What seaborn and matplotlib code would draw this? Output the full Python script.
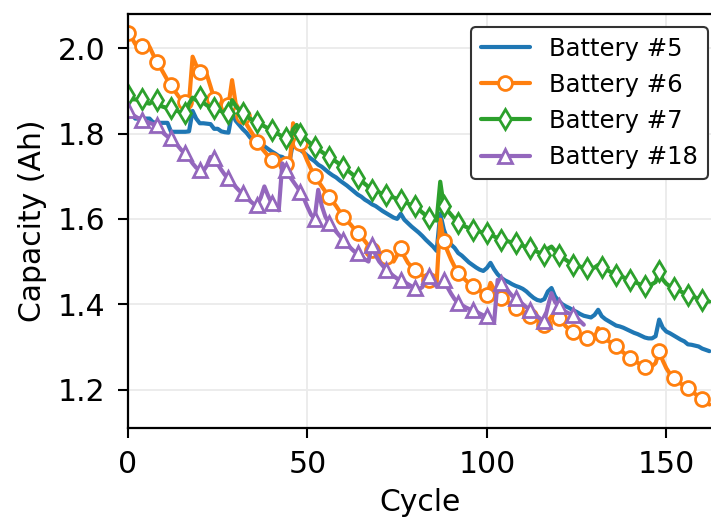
import numpy as np
import pandas as pd
import matplotlib
matplotlib.use("Agg")
import matplotlib.pyplot as plt
import seaborn as sns

# ---- data ----
b5 = [1.856, 1.846, 1.835, 1.835, 1.835, 1.835, 1.835, 1.826, 1.826, 1.825,
      1.825, 1.825, 1.804, 1.804, 1.804, 1.804, 1.804, 1.805, 1.853, 1.835,
      1.824, 1.824, 1.823, 1.822, 1.811, 1.811, 1.805, 1.803, 1.802, 1.848,
      1.830, 1.820, 1.810, 1.802, 1.791, 1.783, 1.782, 1.776, 1.770, 1.764,
      1.758, 1.753, 1.747, 1.745, 1.739, 1.734, 1.780, 1.770, 1.762, 1.755,
      1.748, 1.741, 1.735, 1.727, 1.722, 1.715, 1.708, 1.702, 1.697, 1.690,
      1.684, 1.678, 1.671, 1.664, 1.657, 1.652, 1.645, 1.640, 1.634, 1.630,
      1.624, 1.618, 1.613, 1.608, 1.603, 1.600, 1.612, 1.598, 1.590, 1.582,
      1.575, 1.568, 1.560, 1.551, 1.543, 1.535, 1.525, 1.612, 1.575, 1.552,
      1.540, 1.532, 1.520, 1.514, 1.506, 1.498, 1.492, 1.486, 1.481, 1.478,
      1.485, 1.497, 1.482, 1.470, 1.462, 1.456, 1.452, 1.447, 1.443, 1.440,
      1.436, 1.430, 1.422, 1.415, 1.410, 1.408, 1.412, 1.430, 1.438, 1.418,
      1.408, 1.400, 1.395, 1.391, 1.386, 1.382, 1.377, 1.373, 1.371, 1.369,
      1.375, 1.387, 1.372, 1.365, 1.360, 1.355, 1.350, 1.348, 1.345, 1.341,
      1.337, 1.333, 1.330, 1.326, 1.322, 1.320, 1.320, 1.325, 1.364, 1.345,
      1.336, 1.332, 1.327, 1.322, 1.317, 1.313, 1.306, 1.305, 1.303, 1.301,
      1.296, 1.293, 1.290]

b6 = [2.035, 2.025, 2.010, 2.008, 2.005, 2.005, 2.003, 1.985, 1.968, 1.955,
      1.940, 1.925, 1.913, 1.900, 1.888, 1.877, 1.874, 1.873, 1.980, 1.960,
      1.945, 1.940, 1.937, 1.910, 1.882, 1.875, 1.870, 1.867, 1.866, 1.925,
      1.870, 1.855, 1.840, 1.822, 1.808, 1.795, 1.780, 1.768, 1.758, 1.748,
      1.738, 1.735, 1.733, 1.731, 1.728, 1.722, 1.824, 1.800, 1.777, 1.755,
      1.735, 1.717, 1.700, 1.688, 1.676, 1.664, 1.652, 1.641, 1.630, 1.617,
      1.605, 1.596, 1.587, 1.577, 1.568, 1.558, 1.548, 1.537, 1.527, 1.522,
      1.518, 1.513, 1.510, 1.505, 1.500, 1.515, 1.531, 1.512, 1.497, 1.488,
      1.480, 1.474, 1.468, 1.462, 1.457, 1.453, 1.450, 1.598, 1.547, 1.525,
      1.505, 1.488, 1.473, 1.465, 1.457, 1.449, 1.442, 1.437, 1.432, 1.427,
      1.422, 1.450, 1.435, 1.425, 1.415, 1.410, 1.404, 1.397, 1.391, 1.386,
      1.381, 1.377, 1.372, 1.367, 1.362, 1.357, 1.352, 1.360, 1.372, 1.370,
      1.368, 1.358, 1.348, 1.341, 1.336, 1.332, 1.328, 1.325, 1.321, 1.318,
      1.320, 1.344, 1.329, 1.320, 1.313, 1.307, 1.301, 1.294, 1.287, 1.280,
      1.274, 1.268, 1.263, 1.258, 1.254, 1.252, 1.255, 1.262, 1.290, 1.268,
      1.250, 1.237, 1.227, 1.220, 1.214, 1.209, 1.204, 1.197, 1.190, 1.184,
      1.177, 1.171, 1.165]

b7 = [1.891, 1.880, 1.880, 1.878, 1.882, 1.872, 1.870, 1.876, 1.878, 1.865,
      1.862, 1.860, 1.859, 1.855, 1.852, 1.848, 1.847, 1.870, 1.884, 1.878,
      1.886, 1.872, 1.866, 1.860, 1.859, 1.856, 1.852, 1.849, 1.847, 1.878,
      1.865, 1.855, 1.847, 1.840, 1.835, 1.830, 1.828, 1.822, 1.817, 1.812,
      1.808, 1.803, 1.798, 1.793, 1.789, 1.785, 1.810, 1.820, 1.800, 1.792,
      1.783, 1.776, 1.769, 1.763, 1.757, 1.751, 1.746, 1.740, 1.734, 1.728,
      1.722, 1.715, 1.708, 1.701, 1.695, 1.689, 1.682, 1.675, 1.668, 1.665,
      1.662, 1.659, 1.656, 1.653, 1.650, 1.647, 1.644, 1.640, 1.636, 1.632,
      1.629, 1.622, 1.615, 1.608, 1.601, 1.598, 1.596, 1.687, 1.629, 1.620,
      1.610, 1.600, 1.590, 1.586, 1.582, 1.578, 1.574, 1.572, 1.570, 1.568,
      1.567, 1.563, 1.559, 1.555, 1.551, 1.549, 1.547, 1.545, 1.543, 1.540,
      1.537, 1.534, 1.531, 1.527, 1.523, 1.519, 1.516, 1.530, 1.535, 1.525,
      1.516, 1.510, 1.504, 1.498, 1.492, 1.490, 1.488, 1.486, 1.485, 1.484,
      1.486, 1.492, 1.488, 1.483, 1.478, 1.473, 1.469, 1.466, 1.463, 1.460,
      1.457, 1.453, 1.449, 1.445, 1.442, 1.443, 1.447, 1.452, 1.477, 1.458,
      1.448, 1.442, 1.438, 1.434, 1.430, 1.426, 1.422, 1.419, 1.416, 1.413,
      1.410, 1.408, 1.406]

b18 = [1.855, 1.845, 1.840, 1.835, 1.832, 1.828, 1.825, 1.822, 1.820, 1.810,
       1.800, 1.793, 1.789, 1.780, 1.770, 1.760, 1.754, 1.742, 1.730, 1.720,
       1.715, 1.712, 1.725, 1.745, 1.742, 1.728, 1.715, 1.703, 1.695, 1.685,
       1.675, 1.666, 1.660, 1.650, 1.642, 1.635, 1.633, 1.650, 1.676, 1.655,
       1.637, 1.628, 1.620, 1.730, 1.715, 1.700, 1.688, 1.676, 1.664, 1.648,
       1.628, 1.610, 1.600, 1.668, 1.630, 1.605, 1.590, 1.580, 1.570, 1.560,
       1.551, 1.542, 1.532, 1.524, 1.520, 1.512, 1.505, 1.500, 1.539, 1.515,
       1.500, 1.490, 1.480, 1.473, 1.466, 1.460, 1.457, 1.452, 1.447, 1.442,
       1.438, 1.435, 1.440, 1.458, 1.465, 1.450, 1.442, 1.448, 1.457, 1.440,
       1.425, 1.412, 1.403, 1.398, 1.393, 1.389, 1.387, 1.383, 1.378, 1.374,
       1.372, 1.362, 1.356, 1.457, 1.450, 1.440, 1.430, 1.420, 1.414, 1.407,
       1.400, 1.393, 1.387, 1.380, 1.372, 1.365, 1.360, 1.395, 1.426, 1.405,
       1.395, 1.388, 1.382, 1.378, 1.375, 1.368, 1.360, 1.352]

labels = ["Battery #5", "Battery #6", "Battery #7", "Battery #18"]
series = [b5, b6, b7, b18]
colors = ["#1f77b4", "#ff7f0e", "#2ca02c", "#9467bd"]
markers = [None, "o", "d", "^"]

xticks = [0, 50, 100, 150]
yticks = [1.2, 1.4, 1.6, 1.8, 2.0]

frames = []
for lab, vals in zip(labels, series):
    frames.append(pd.DataFrame({"Cycle": np.arange(len(vals)),
                                "Capacity": vals, "Battery": lab}))
df = pd.concat(frames, ignore_index=True)

sns.set_style("ticks")
plt.rcParams["font.family"] = ["DejaVu Sans"]
plt.rcParams["text.color"] = "black"
plt.rcParams["axes.labelcolor"] = "black"

fig = plt.figure(figsize=(7.11, 5.2), dpi=100)
ax = fig.add_axes([128 / 711, 92 / 520, 585 / 711, 414 / 520])

for lab, col, mk in zip(labels, colors, markers):
    sub = df[df["Battery"] == lab]
    kw = dict(color=col, linewidth=3.0, label=lab)
    if mk is not None:
        kw.update(marker=mk, markevery=4, markersize=10,
                  markerfacecolor="white", markeredgecolor=col,
                  markeredgewidth=2.0)
    sns.lineplot(data=sub, x="Cycle", y="Capacity", ax=ax, **kw)

ax.set_xlim(0, 163)
ax.set_ylim(1.11, 2.08)
ax.set_xticks(xticks)
ax.set_yticks(yticks)
ax.set_yticklabels([f"{t:.1f}" for t in yticks])
ax.grid(True, color="#ebebeb", linewidth=1.3)
ax.set_axisbelow(True)
for s in ax.spines.values():
    s.set_color("black")
    s.set_linewidth(1.6)
ax.tick_params(direction="out", length=7, width=1.5, pad=9, labelsize=21.5,
               color="black", labelcolor="black")
ax.set_xlabel("Cycle", fontsize=21.5, color="black", labelpad=6)
ax.set_ylabel("Capacity (Ah)", fontsize=21.5, color="black", labelpad=8)

leg = ax.legend(loc="upper right", bbox_to_anchor=(0.991, 0.969),
                borderaxespad=0, fontsize=17.5, frameon=True, fancybox=True,
                framealpha=1, edgecolor="#333333")
leg.get_frame().set_linewidth(1.5)
for t in leg.get_texts():
    t.set_color("black")

fig.savefig("out.png", dpi=100)
